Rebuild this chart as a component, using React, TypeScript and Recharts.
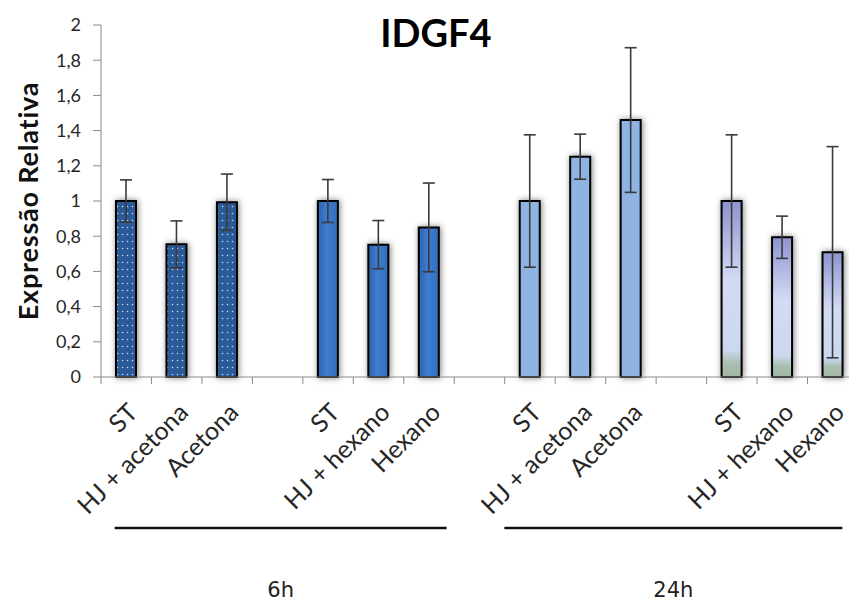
import React from 'react';
import { BarChart, Bar, XAxis, YAxis, ErrorBar, Cell } from 'recharts';

// slots: 6h acetona | gap | 6h hexano | gap | 24h acetona | gap | 24h hexano
const categories = [
  'ST', 'HJ + acetona', 'Acetona', '',
  'ST', 'HJ + hexano', 'Hexano', '',
  'ST', 'HJ + acetona', 'Acetona', '',
  'ST', 'HJ + hexano', 'Hexano',
];
const means = [
  1.0, 0.754, 0.993, null,
  1.0, 0.752, 0.85, null,
  1.0, 1.252, 1.46, null,
  1.0, 0.794, 0.709,
];
const errors = [
  0.12, 0.133, 0.16, null,
  0.122, 0.137, 0.252, null,
  0.376, 0.128, 0.411, null,
  0.376, 0.12, 0.6,
];
const yTicks = [0, 0.2, 0.4, 0.6, 0.8, 1, 1.2, 1.4, 1.6, 1.8, 2];
const timeLabels = ['6h', '24h'];

const data = categories.map((name, i) => ({ name, value: means[i], err: errors[i] }));

const groupFills = ['url(#dots)', 'url(#mid)', '#8db4e3', 'url(#purple)'];

const fmt = (v: number) => String(Math.round(v * 10) / 10).replace('.', ',');

const XTick = (props: any) => {
  const { x, y, index, payload } = props;
  const half = (payload && payload.offset) || 25.2;
  const label = categories[index];
  let bracket = null;
  if (index === 3 || index === 11) {
    const k = index === 3 ? 0 : 1;
    const x1 = k === 0 ? x - 163 : x - 177;
    const x2 = k === 0 ? x + 169 : x + 161;
    bracket = (
      <g>
        <line x1={x1} y1={y + 151} x2={x2} y2={y + 151} stroke="#111" strokeWidth={2.5} />
        <text x={(x1 + x2) / 2} y={y + 220} textAnchor="middle"
          style={{ fontFamily: 'DejaVu Sans', fontSize: 21, fill: '#222' }}>
          {timeLabels[k]}
        </text>
      </g>
    );
  }
  const tx = x + 13;
  const ty = y + 37;
  return (
    <g>
      <line x1={x - half} y1={y} x2={x - half} y2={y + 7} stroke="#8a8a8a" strokeWidth={1} />
      {index === categories.length - 1 && (
        <line x1={x + half} y1={y} x2={x + half} y2={y + 7} stroke="#8a8a8a" strokeWidth={1} />
      )}
      {label && (
        <text x={tx} y={ty} textAnchor="end" transform={`rotate(-45 ${tx} ${ty})`}
          style={{ fontFamily: 'Lato', fontSize: 25, fill: '#262626' }}>
          {label}
        </text>
      )}
      {bracket}
    </g>
  );
};

const YLabel = (props: any) => {
  const { viewBox } = props;
  const cx = viewBox.x + 27;
  const cy = viewBox.y + viewBox.height / 2;
  return (
    <text x={cx} y={cy} textAnchor="middle" dominantBaseline="central"
      transform={`rotate(-90 ${cx} ${cy})`}
      style={{ fontFamily: 'Lato', fontWeight: 700, fontSize: 27, fill: '#111', letterSpacing: 0.8 }}>
      Expressão Relativa
    </text>
  );
};

export default function App() {
  return (
    <div style={{ position: 'absolute', left: 0, top: 0, width: 849, height: 601, overflow: 'hidden', background: '#fff' }}>
      <BarChart width={870} height={601} data={data} margin={{ top: 25, right: 12, bottom: 0, left: 0 }}>
        <defs>
          <pattern id="dots" patternUnits="userSpaceOnUse" width="5" height="7">
            <rect width="5" height="7" fill="#2c5a98" />
            <circle cx="2.5" cy="3.5" r="0.8" fill="#c8d6ec" />
          </pattern>
          <linearGradient id="mid" x1="0" y1="0" x2="1" y2="0">
            <stop offset="0%" stopColor="#2d62ad" />
            <stop offset="45%" stopColor="#3e7dd0" />
            <stop offset="100%" stopColor="#336dbd" />
          </linearGradient>
          <linearGradient id="purple" x1="0" y1="0" x2="0" y2="1">
            <stop offset="0%" stopColor="#8d93cf" />
            <stop offset="45%" stopColor="#d2dbf4" />
            <stop offset="85%" stopColor="#cbd8ef" />
            <stop offset="92%" stopColor="#aabfb0" />
            <stop offset="100%" stopColor="#a3b6a6" />
          </linearGradient>
          <filter id="glow" x="-60%" y="-10%" width="220%" height="120%">
            <feDropShadow dx="1" dy="0" stdDeviation="3" floodColor="#000" floodOpacity="0.5" />
          </filter>
        </defs>
        <text x={436} y={47} textAnchor="middle"
          style={{ fontFamily: 'Lato', fontWeight: 700, fontSize: 38, fill: '#000' }}>
          IDGF4
        </text>
        <YAxis
          width={101}
          domain={[0, 2]}
          ticks={yTicks}
          tickFormatter={fmt}
          axisLine={{ stroke: '#8a8a8a' }}
          tickLine={{ stroke: '#8a8a8a' }}
          tickSize={8}
          tickMargin={12}
          tick={{ fontFamily: 'Lato', fontSize: 18, fill: '#262626' }}
          label={<YLabel />}
        />
        <XAxis
          dataKey="name"
          height={224}
          interval={0}
          axisLine={{ stroke: '#8a8a8a' }}
          tickLine={false}
          tickSize={0}
          tickMargin={0}
          tick={<XTick />}
        />
        <Bar dataKey="value" barSize={20} stroke="#000" strokeWidth={2} isAnimationActive={false}>
          {data.map((d, i) => (
            <Cell key={i} fill={groupFills[Math.floor(i / 4)]} filter="url(#glow)" />
          ))}
          <ErrorBar dataKey="err" width={6} stroke="#3a3a3a" strokeWidth={1.6} direction="y" />
        </Bar>
      </BarChart>
    </div>
  );
}
